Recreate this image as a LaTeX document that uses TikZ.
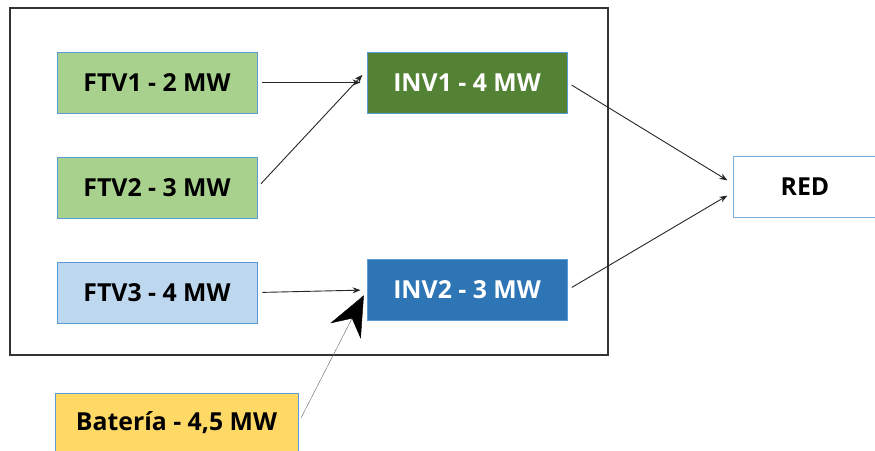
\documentclass[tikz,border=0pt]{standalone}
\usepackage{fontspec}
\setmainfont{Open Sans}
\usepackage{tikz}
\usetikzlibrary{arrows.meta}

\definecolor{verdeclaro}{HTML}{A9D18E}
\definecolor{verdeosc}{HTML}{548235}
\definecolor{azulclaro}{HTML}{BDD7EE}
\definecolor{azulosc}{HTML}{2E75B6}
\definecolor{amarillo}{HTML}{FFD966}
\definecolor{borde}{HTML}{5B9BD5}

\begin{document}
\begin{tikzpicture}[x=1pt,y=-1pt,
  caja/.style={draw=borde,line width=0.9pt,minimum width=200pt,minimum height=61pt,inner sep=0pt,font=\fontsize{24.8}{28}\selectfont\bfseries},
  flecha/.style={-{Stealth[length=8pt,width=6pt]},line width=0.9pt,black!85,shorten <=5pt,shorten >=6pt}]
\useasboundingbox (0,0) rectangle (875,450);

%marco de la planta
\draw [line width=2pt,black!80](10,8) rectangle (608,355);

%fotovoltaicas
\node[caja,fill=verdeclaro] (ftv1) at (157,82.5) {FTV1 - 2 MW};
\node[caja,fill=verdeclaro] (ftv2) at (157,187.5) {FTV2 - 3 MW};
\node[caja,fill=azulclaro] (ftv3) at (157,292.5) {FTV3 - 4 MW};

%inversores
\node[caja,fill=verdeosc,text=white] (inv1) at (467,82.5) {INV1 - 4 MW};
\node[caja,fill=azulosc,text=white] (inv2) at (467,290) {INV2 - 3 MW};

%red y bateria
\node[caja,fill=white,draw=borde!80,minimum width=144pt] (red) at (805,186.5) {RED};
\node[caja,fill=amarillo,minimum width=243pt,minimum height=60pt] (bat) at (176.5,423) {Batería - 4,5 MW};

\draw [flecha](ftv1.east)--(inv1.west);
\draw [flecha](ftv2.east)--([yshift=12pt]inv1.west);
\draw [flecha](ftv3.east)--(inv2.west);
\draw [flecha](inv1.east)--([yshift=3pt]red.west);
\draw [flecha](inv2.east)--([yshift=-6pt]red.west);
\draw [-{Stealth[length=40pt,width=34pt,inset=14pt,black]},line width=0.4pt,black!60,shorten <=6pt,shorten >=6pt](bat.east)--(inv2.west);

\end{tikzpicture}
\end{document}
